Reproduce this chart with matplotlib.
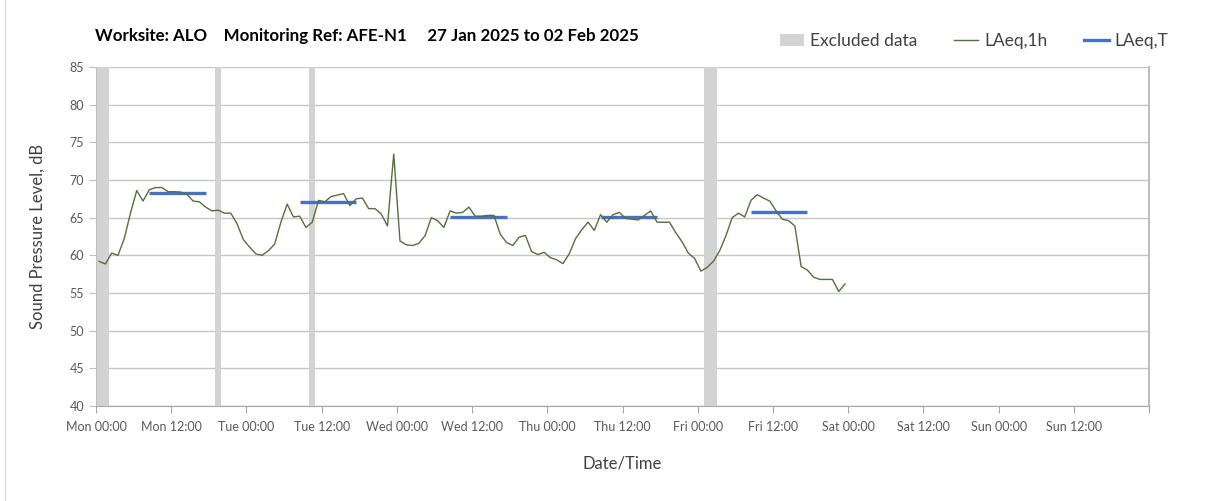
import numpy as np
import pandas as pd
import matplotlib
matplotlib.use("Agg")
import matplotlib.pyplot as plt
import matplotlib.dates as mdates
from matplotlib.lines import Line2D
from matplotlib.patches import Patch

plt.rcParams['font.family'] = ['Lato', 'DejaVu Sans']

# ---- data ----
title_text = "Worksite: ALO    Monitoring Ref: AFE-N1     27 Jan 2025 to 02 Feb 2025"
start_time = "2025-01-27 00:30"
laeq_1h = [
    59.2, 58.85, 60.3, 60.0, 62.2, 65.6, 68.6, 67.2, 68.7, 69.0,
    69.0, 68.45, 68.45, 68.4, 68.1, 67.2, 67.1, 66.4, 65.9, 66.0,
    65.6, 65.6, 64.2, 62.1, 61.1, 60.2, 60.0, 60.6, 61.5, 64.4,
    66.8, 65.1, 65.2, 63.7, 64.4, 67.3, 67.1, 67.8, 68.0, 68.2,
    66.6, 67.5, 67.6, 66.2, 66.2, 65.5, 63.9, 73.45, 61.9, 61.4,
    61.3, 61.6, 62.6, 65.0, 64.6, 63.7, 65.9, 65.6, 65.7, 66.4,
    65.2, 65.2, 65.3, 65.3, 62.8, 61.7, 61.3, 62.4, 62.65, 60.5,
    60.1, 60.4, 59.7, 59.4, 58.9, 60.2, 62.2, 63.4, 64.4, 63.3,
    65.4, 64.4, 65.4, 65.7, 64.9, 64.8, 64.7, 65.3, 65.9, 64.4,
    64.4, 64.4, 63.0, 61.8, 60.3, 59.6, 57.9, 58.4, 59.2, 60.6,
    62.6, 65.0, 65.6, 65.1, 67.3, 68.05, 67.6, 67.2, 65.9, 64.8,
    64.6, 63.9, 58.5, 58.05, 57.1, 56.8, 56.8, 56.8, 55.2, 56.2,
]
laeq_t_start = ["2025-01-27 08:30", "2025-01-28 08:30", "2025-01-29 08:30",
                "2025-01-30 08:30", "2025-01-31 08:30"]
laeq_t_end = ["2025-01-27 17:30", "2025-01-28 17:30", "2025-01-29 17:30",
              "2025-01-30 17:30", "2025-01-31 17:30"]
laeq_t = [68.3, 67.1, 65.1, 65.1, 65.7]
excluded_start = ["2025-01-27 00:00", "2025-01-27 19:00", "2025-01-28 10:00", "2025-01-31 01:00"]
excluded_end = ["2025-01-27 02:00", "2025-01-27 20:00", "2025-01-28 11:00", "2025-01-31 03:00"]
x_start = "2025-01-27 00:00"
x_end = "2025-02-03 00:00"
y_ticks = [40, 45, 50, 55, 60, 65, 70, 75, 80, 85]
legend_labels = ['Excluded data', 'LAeq,1h', 'LAeq,T']

# ---- figure ----
fig = plt.figure(figsize=(12.08, 5.01), dpi=100)
ax = fig.add_axes([96/1208, 1-406/501, (1149-96)/1208, (406-67)/501])

times = pd.date_range(start_time, periods=len(laeq_1h), freq='h')

for s, e in zip(excluded_start, excluded_end):
    ax.axvspan(pd.Timestamp(s), pd.Timestamp(e), color='#d3d3d3', lw=0, zorder=1)

for s, e, v in zip(laeq_t_start, laeq_t_end, laeq_t):
    ax.plot([pd.Timestamp(s), pd.Timestamp(e)], [v, v], color='#4472c4', lw=2.4,
            solid_capstyle='butt', zorder=3)

ax.plot(times, laeq_1h, color='#55703a', lw=1.0, zorder=4)

ax.set_xlim(pd.Timestamp(x_start), pd.Timestamp(x_end))
ax.set_ylim(40, 85)
ax.set_yticks(y_ticks)
ax.xaxis.set_major_locator(mdates.HourLocator(byhour=[0, 12]))
ax.xaxis.set_minor_locator(mdates.DayLocator())
x_end_num = mdates.date2num(pd.Timestamp(x_end))
ax.xaxis.set_major_formatter(plt.FuncFormatter(
    lambda v, p: '' if v >= x_end_num - 1e-6
    else mdates.num2date(v).strftime('%a %H:%M')))

ax.grid(axis='y', which='major', color='#c6c6c6', lw=1.0, zorder=0)
ax.grid(axis='x', which='minor', color='#e2e2e2', lw=1.6, zorder=0)
ax.set_axisbelow(True)

ax.spines['top'].set_visible(False)
ax.spines['right'].set_color('#bfbfbf')
ax.spines['right'].set_linewidth(1.5)
ax.spines['left'].set_color('#bfbfbf')
ax.spines['bottom'].set_color('#a6a6a6')

ax.tick_params(axis='both', labelsize=9, length=5, width=0.8)
ax.tick_params(axis='x', which='minor', length=0)
ax.tick_params(axis='y', colors='#bfbfbf', labelcolor='#595959')
ax.tick_params(axis='x', colors='#a6a6a6', labelcolor='#595959', pad=6)

ax.set_ylabel('Sound Pressure Level, dB', fontsize=12, color='#404040', labelpad=17)
ax.set_xlabel('Date/Time', fontsize=12, color='#404040', labelpad=16)

fig.text(95/1208, 1-36/501, title_text, fontsize=12.2, fontweight='bold',
         color='black', ha='left', va='center')

handles = [Patch(facecolor='#d3d3d3', edgecolor='none'),
           Line2D([], [], color='#55703a', lw=1.0),
           Line2D([], [], color='#4472c4', lw=2.4)]
fig.legend(handles, legend_labels, ncol=3, frameon=False,
           loc='center right', bbox_to_anchor=(1184/1208, 1-41/501), fontsize=12.5,
           handlelength=1.4, handletextpad=0.35, columnspacing=2.1,
           labelcolor='#404040')

fig.lines.append(Line2D([5/1208, 5/1208], [0, 1], transform=fig.transFigure,
                        color='#d9d9d9', lw=1.0))

fig.savefig('out.png', dpi=100)
